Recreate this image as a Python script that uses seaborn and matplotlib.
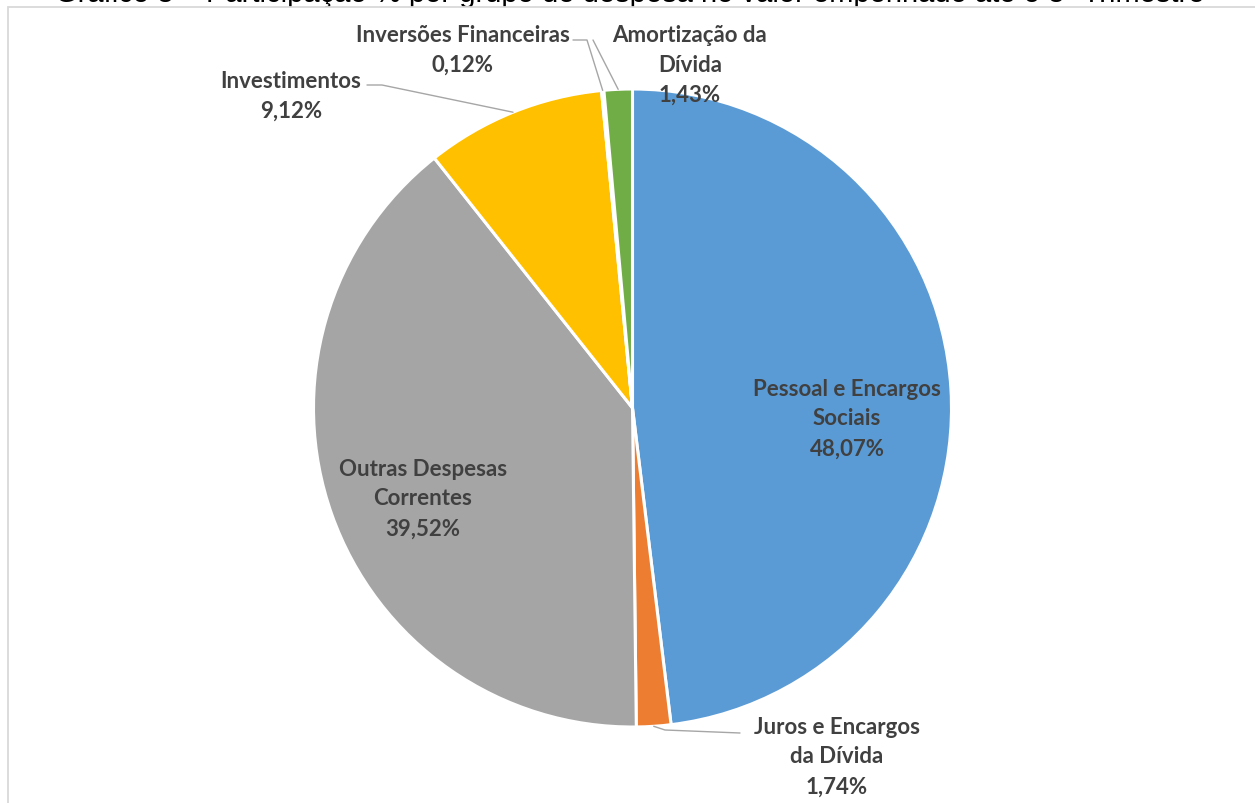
import numpy as np
import matplotlib
matplotlib.use("Agg")
import matplotlib.pyplot as plt
from matplotlib.patches import Rectangle
import seaborn as sns

# ---- data ----
categories = ["Pessoal e Encargos\nSociais", "Juros e Encargos\nda Dívida", "Outras Despesas\nCorrentes",
              "Investimentos", "Inversões Financeiras", "Amortização da\nDívida"]
values = [48.07, 1.74, 39.52, 9.12, 0.12, 1.43]
value_labels = ["48,07%", "1,74%", "39,52%", "9,12%", "0,12%", "1,43%"]
colors_hex = ["#5B9BD5", "#ED7D31", "#A5A5A5", "#FFC000", "#4472C4", "#70AD47"]
title = "Gráfico 8 – Participação % por grupo de despesa no valor empenhado até o 3º Trimestre"

sns.set_theme(style="white")
plt.rcParams['font.family'] = ['Lato', 'DejaVu Sans']

W, H = 1255, 804
fig = plt.figure(figsize=(W / 100, H / 100), dpi=100)
fig.patch.set_facecolor("white")

# title (mostly above the image, lower part hidden behind the chart box, as in the reference)
fig.text(630 / W, 1 - 2 / H, title, ha="center", va="baseline",
         fontsize=21, family=["Liberation Sans", "DejaVu Sans"], color="#000000", zorder=0)

ax = fig.add_axes([0, 0, 1, 1], zorder=2)
ax.patch.set_alpha(0)

def P(x, y):
    return (x, H - y)

cx, cy = P(632.5, 409)
R = 319
palette = sns.color_palette(colors_hex)
wedges, _ = ax.pie(values, colors=palette, startangle=90, counterclock=False,
                   center=(cx, cy), radius=R,
                   wedgeprops=dict(edgecolor="white", linewidth=2.2))
ax.set_xlim(0, W)
ax.set_ylim(0, H)
ax.set_aspect("equal")
ax.axis("off")

# chart box (covers the lower part of the title)
box = Rectangle(P(8, 900), 1300, 892, facecolor="white", edgecolor="#D9D9D9",
                linewidth=1.3, zorder=0)
ax.add_patch(box)

def edge_point(w):
    a = np.deg2rad((w.theta1 + w.theta2) / 2)
    return cx + R * np.cos(a), cy + R * np.sin(a)

txt_kw = dict(ha="center", va="center", fontsize=16, fontweight="bold",
              color="#404040", linespacing=1.52, zorder=5)

label_pos = [(847, 419), (837, 757), (423, 499), (291, 96.5), (463, 50), (690, 65)]
for cat, vl, (x, y) in zip(categories, value_labels, label_pos):
    ax.text(*P(x, y), f"{cat}\n{vl}", **txt_kw)

line_kw = dict(color="#A6A6A6", linewidth=1.0, zorder=4)
# leader lines: label-side anchor points, ending on the wedge edge
leaders = {1: [(740, 734), (665, 731)],
           3: [(367, 86), (382, 86)],
           4: [(573, 41), (587, 41)],
           5: [(593, 41)]}
for i, pts in leaders.items():
    xs = [P(*p)[0] for p in pts]
    ys = [P(*p)[1] for p in pts]
    ex, ey = edge_point(wedges[i])
    xs.append(ex); ys.append(ey)
    ax.plot(xs, ys, **line_kw)

fig.savefig("out.png", dpi=100, facecolor="white")
